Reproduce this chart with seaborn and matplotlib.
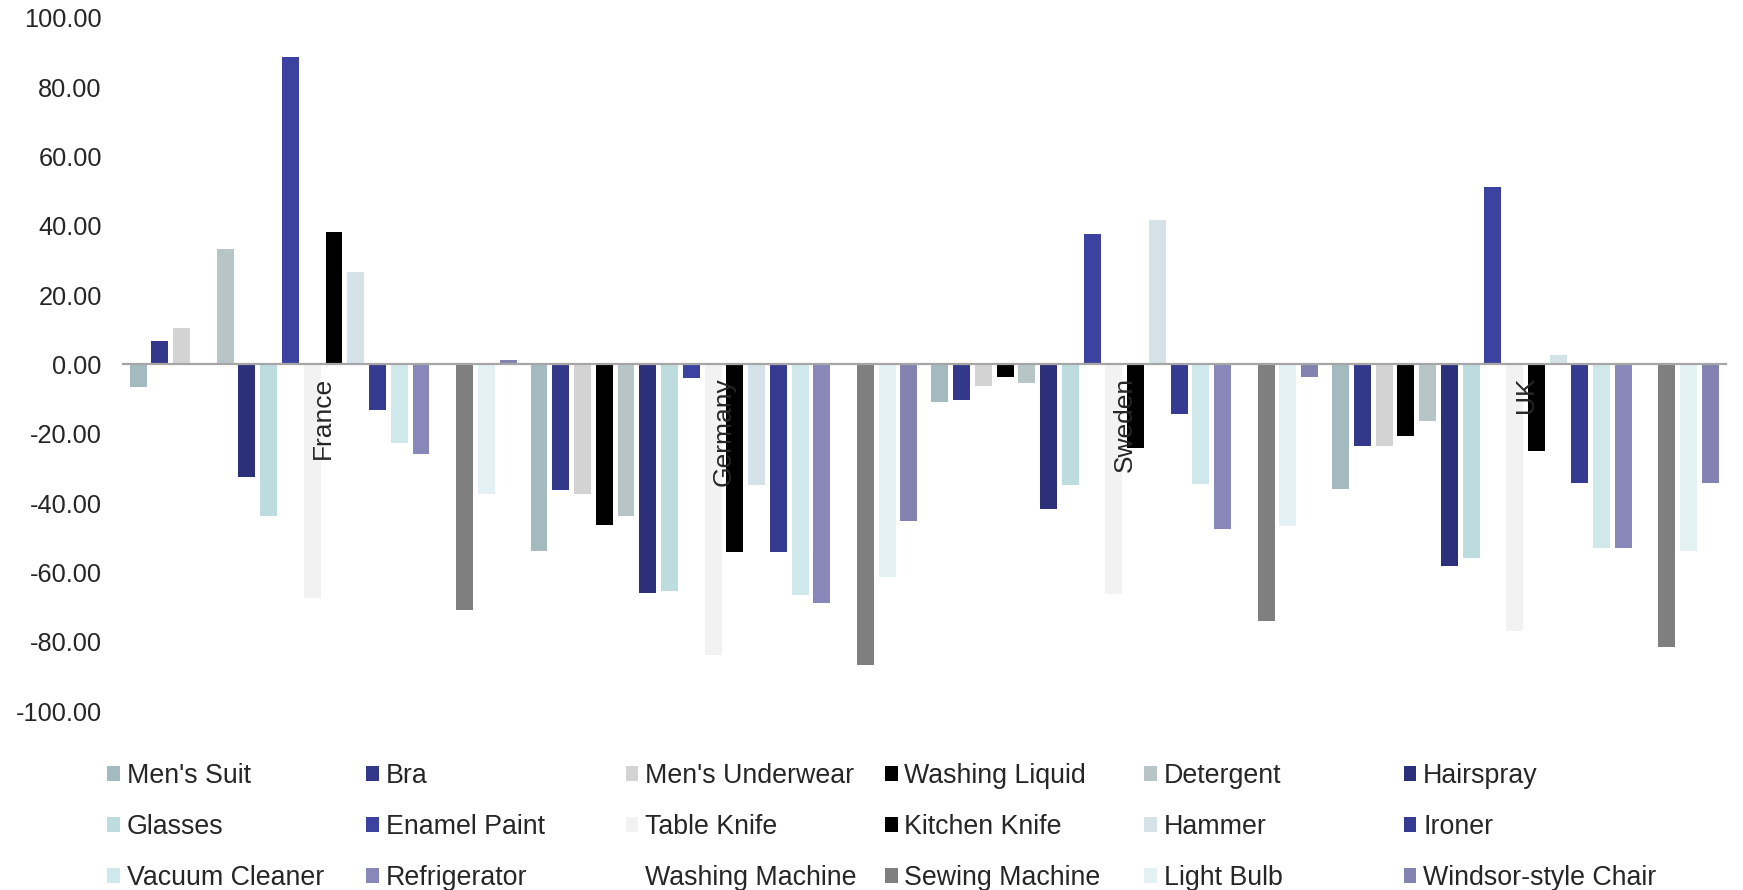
import matplotlib
matplotlib.use("Agg")
import matplotlib.pyplot as plt
import seaborn as sns
import numpy as np
import pandas as pd

# --- Data ---
countries = ['France', 'Germany', 'Sweden', 'UK']
products = ["Men's Suit", 'Bra', "Men's Underwear", 'Washing Liquid', 'Detergent', 'Hairspray',
            'Glasses', 'Enamel Paint', 'Table Knife', 'Kitchen Knife', 'Hammer', 'Ironer',
            'Vacuum Cleaner', 'Refrigerator', 'Washing Machine', 'Sewing Machine', 'Light Bulb',
            'Windsor-style Chair']
colors = ['#A3BBBF', '#33388A', '#D3D3D3', '#000000', '#B8C5C6', '#2C2F7A',
          '#BCDCDE', '#3C42A0', '#F2F2F2', '#000000', '#D5E3E8', '#363B91',
          '#CFE8EA', '#8787BA', '#FFFFFF', '#7F7F7F', '#E3F1F2', '#8482B0']

france = [-6.4, 6.8, 10.6, 0.0, 33.3, -32.6, -43.7, 88.8, -67.4, 38.3, 26.7, -13.1,
          -22.6, -25.9, 0.0, -70.8, -37.4, 1.2]
germany = [-53.8, -36.3, -37.4, -46.2, -43.8, -65.9, -65.3, -3.9, -83.7, -54.2, -34.7, -54.2,
           -66.6, -68.8, 0.0, -86.7, -61.2, -45.2]
sweden = [-10.9, -10.2, -6.1, -3.6, -5.4, -41.7, -34.9, 37.7, -66.3, -24.0, 41.6, -14.2,
          -34.6, -47.4, 0.0, -74.1, -46.6, -3.5]
uk = [-35.9, -23.6, -23.6, -20.5, -16.3, -58.0, -55.7, 51.1, -76.8, -24.9, 2.7, -34.2,
      -53.0, -53.0, 0.0, -81.4, -53.8, -34.2]

df = pd.DataFrame({
    'country': np.repeat(countries, len(products)),
    'product': products * len(countries),
    'value': france + germany + sweden + uk,
})

# --- Plot ---
sns.set_style('white')
plt.rcParams['font.family'] = ['Liberation Sans', 'DejaVu Sans']
fs_tick = 18.3
fs_leg = 19.3

fig = plt.figure(figsize=(17.43, 8.90), dpi=100)
ax = fig.add_axes([0.0704, 0.201, 0.9198, 0.7789])

sns.barplot(data=df, x='country', y='value', hue='product', hue_order=products,
            order=countries, palette=dict(zip(products, colors)), saturation=1,
            errorbar=None, width=0.977, gap=0.22, linewidth=0, ax=ax)

handles, labels = ax.get_legend_handles_labels()
ax.get_legend().remove()

ax.set_ylim(-100, 100)
ax.set_xlim(-0.5, 3.5)
ax.set_yticks(np.arange(-100, 101, 20))
ax.set_yticklabels([f'{v:.2f}' for v in np.arange(-100, 101, 20)])
ax.set_xlabel('')
ax.set_ylabel('')
ax.set_axisbelow(False)  # category labels sit on top of the bars

for s in ['top', 'right', 'left']:
    ax.spines[s].set_visible(False)
ax.spines['bottom'].set_position(('data', 0))
ax.spines['bottom'].set_color('#A6A6A6')
ax.spines['bottom'].set_linewidth(1.6)

ax.tick_params(axis='y', length=0, pad=15, labelsize=fs_tick)
ax.tick_params(axis='x', length=0, pad=9, labelsize=19, rotation=90)

# legend: 6 columns x 3 rows, row-major order
col_step = 259.3 / 1743
for c in range(6):
    idx = [c, c + 6, c + 12]
    fig.legend([handles[i] for i in idx], [labels[i] for i in idx],
               loc='upper left', bbox_to_anchor=(0.0614 + c * col_step, 0.143),
               frameon=False, fontsize=fs_leg, handlelength=0.48, handleheight=0.48,
               handletextpad=0.25, labelspacing=0.93, borderpad=0, borderaxespad=0)

fig.savefig('out.png', dpi=100)
